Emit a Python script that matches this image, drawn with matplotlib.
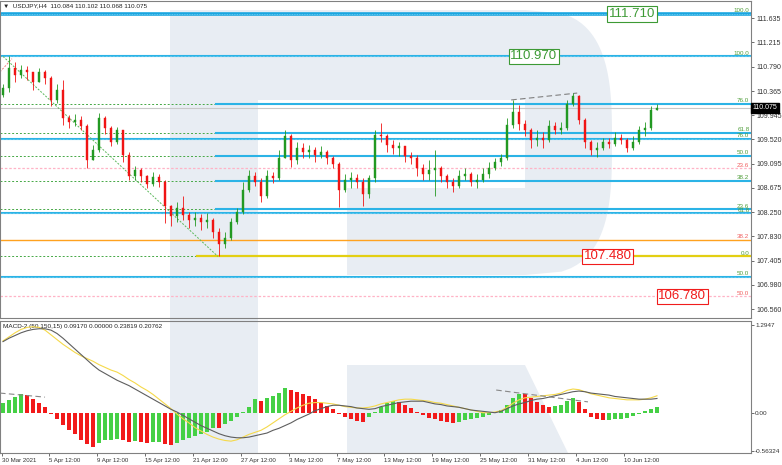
import numpy as np
import matplotlib.pyplot as plt
from matplotlib.patches import Polygon, Rectangle
from matplotlib.transforms import blended_transform_factory

plt.rcParams['font.family'] = ['Liberation Sans', 'DejaVu Sans']

first_open = 110.30
closes = [110.418, 110.767, 110.645, 110.732, 110.697, 110.523, 110.697, 110.593, 110.209, 110.383,
          109.895, 109.825, 109.860, 109.755, 109.162, 109.336, 109.895, 109.720, 109.476, 109.685,
          109.249, 108.882, 108.987, 108.882, 108.743, 108.865, 108.778, 108.359, 108.184, 108.324,
          108.202, 108.115, 108.149, 108.080, 108.115, 107.905, 107.696, 107.800, 108.080, 108.254,
          108.638, 108.882, 108.778, 108.533, 108.882, 108.848, 109.197, 109.581, 109.162, 109.371,
          109.301, 109.336, 109.249, 109.301, 109.197, 109.092, 108.638, 108.813, 108.848, 108.778,
          108.568, 108.848, 109.598, 109.581, 109.423, 109.371, 109.406, 109.231, 109.197, 109.022,
          108.917, 108.987, 109.022, 108.882, 108.778, 108.708, 108.882, 108.917, 108.778, 108.813,
          108.917, 109.022, 109.127, 109.197, 109.772, 109.999, 109.790, 109.685, 109.511, 109.546,
          109.511, 109.755, 109.685, 109.720, 110.139, 110.279, 109.860, 109.476, 109.336, 109.371,
          109.476, 109.441, 109.546, 109.511, 109.371, 109.476, 109.685, 109.720, 110.034, 110.075]
highs = [110.488, 110.977, 110.872, 110.820, 110.802, 110.697, 110.767, 110.732, 110.628, 110.488,
         110.558, 109.947, 109.964, 109.930, 109.790, 109.423, 109.982, 109.930, 109.755, 109.738,
         109.685, 109.301, 109.057, 109.022, 108.900, 108.952, 108.917, 108.813, 108.376, 108.429,
         108.533, 108.254, 108.254, 108.219, 108.237, 108.149, 107.975, 107.905, 108.149, 108.324,
         108.778, 108.987, 108.952, 108.848, 108.987, 108.952, 109.336, 109.685, 109.615, 109.476,
         109.458, 109.423, 109.389, 109.406, 109.336, 109.231, 109.127, 108.917, 108.952, 108.917,
         108.848, 108.900, 109.685, 109.807, 109.615, 109.511, 109.476, 109.406, 109.301, 109.249,
         109.092, 109.162, 109.336, 109.057, 108.917, 108.848, 108.987, 109.022, 108.952, 108.917,
         109.022, 109.127, 109.197, 109.266, 109.895, 110.209, 110.122, 109.860, 109.720, 109.685,
         109.650, 109.860, 109.825, 109.825, 110.209, 110.331, 110.296, 109.895, 109.511, 109.476,
         109.546, 109.546, 109.650, 109.615, 109.546, 109.581, 109.755, 109.825, 110.104, 110.139]
lows = [110.261, 110.348, 110.523, 110.593, 110.558, 110.383, 110.523, 110.488, 110.104, 110.156,
        109.772, 109.720, 109.755, 109.685, 109.022, 109.197, 109.301, 109.615, 109.406, 109.441,
        109.127, 108.813, 108.813, 108.778, 108.673, 108.708, 108.690, 108.062, 108.010, 108.080,
        108.115, 107.975, 108.010, 107.940, 107.975, 107.800, 107.480, 107.626, 107.766, 108.045,
        108.219, 108.603, 108.708, 108.429, 108.498, 108.760, 108.813, 109.336, 109.040, 109.092,
        109.197, 109.197, 109.127, 109.197, 109.092, 109.022, 108.341, 108.603, 108.673, 108.673,
        108.359, 108.498, 108.778, 109.476, 109.301, 109.266, 109.231, 109.127, 109.092, 108.882,
        108.813, 108.813, 108.533, 108.778, 108.673, 108.603, 108.673, 108.813, 108.708, 108.673,
        108.778, 108.848, 108.987, 109.057, 109.162, 109.720, 109.685, 109.581, 109.371, 109.406,
        109.371, 109.476, 109.615, 109.615, 109.685, 110.104, 109.790, 109.371, 109.249, 109.214,
        109.336, 109.371, 109.406, 109.441, 109.301, 109.336, 109.441, 109.581, 109.685, 110.034]

# MACD-2 (50,150,15)
hist = [0.15, 0.19, 0.23, 0.28, 0.26, 0.20, 0.14, 0.08, -0.02, -0.10,
        -0.18, -0.25, -0.32, -0.40, -0.46, -0.50, -0.45, -0.40, -0.40, -0.39,
        -0.41, -0.43, -0.42, -0.43, -0.44, -0.43, -0.43, -0.46, -0.48, -0.44,
        -0.40, -0.37, -0.34, -0.31, -0.28, -0.22, -0.23, -0.17, -0.12, -0.06,
        0.01, 0.08, 0.20, 0.18, 0.22, 0.24, 0.29, 0.36, 0.34, 0.30,
        0.27, 0.24, 0.20, 0.15, 0.10, 0.05, -0.02, -0.07, -0.10, -0.12,
        -0.13, -0.07, 0.01, 0.08, 0.14, 0.17, 0.16, 0.12, 0.07, 0.01,
        -0.04, -0.08, -0.10, -0.12, -0.14, -0.15, -0.13, -0.11, -0.10, -0.08,
        -0.07, -0.04, 0.00, 0.04, 0.12, 0.22, 0.28, 0.27, 0.22, 0.16,
        0.11, 0.09, 0.10, 0.12, 0.17, 0.22, 0.16, 0.05, -0.06, -0.10,
        -0.11, -0.11, -0.10, -0.09, -0.08, -0.05, -0.02, 0.02, 0.05, 0.09]
macd_yellow = [1.06, 1.12, 1.18, 1.23, 1.26, 1.27, 1.26, 1.22, 1.15, 1.08,
               1.01, 0.95, 0.89, 0.84, 0.80, 0.76, 0.71, 0.67, 0.63, 0.60,
               0.55, 0.49, 0.44, 0.38, 0.33, 0.27, 0.20, 0.13, 0.06, -0.02,
               -0.09, -0.15, -0.22, -0.27, -0.32, -0.36, -0.39, -0.41, -0.42, -0.40,
               -0.36, -0.32, -0.29, -0.26, -0.21, -0.15, -0.09, -0.03, 0.02, 0.07,
               0.11, 0.14, 0.15, 0.15, 0.14, 0.13, 0.11, 0.09, 0.08, 0.07,
               0.07, 0.08, 0.10, 0.13, 0.15, 0.17, 0.19, 0.20, 0.20, 0.19,
               0.18, 0.17, 0.15, 0.14, 0.12, 0.10, 0.08, 0.06, 0.04, 0.02,
               0.00, 0.00, 0.01, 0.03, 0.08, 0.14, 0.19, 0.22, 0.23, 0.24,
               0.25, 0.26, 0.27, 0.29, 0.33, 0.35, 0.34, 0.31, 0.28, 0.26,
               0.24, 0.22, 0.21, 0.20, 0.19, 0.19, 0.19, 0.20, 0.22, 0.25]
macd_gray = [1.05, 1.10, 1.14, 1.18, 1.21, 1.23, 1.24, 1.24, 1.22, 1.17,
             1.10, 1.02, 0.94, 0.86, 0.78, 0.70, 0.63, 0.58, 0.53, 0.48,
             0.44, 0.40, 0.35, 0.30, 0.25, 0.20, 0.15, 0.10, 0.05, 0.01,
             -0.04, -0.09, -0.14, -0.19, -0.23, -0.27, -0.31, -0.34, -0.36, -0.37,
             -0.37, -0.36, -0.34, -0.32, -0.30, -0.26, -0.23, -0.19, -0.15, -0.10,
             -0.06, -0.02, 0.03, 0.06, 0.09, 0.11, 0.11, 0.10, 0.09, 0.07,
             0.06, 0.05, 0.06, 0.09, 0.11, 0.13, 0.15, 0.16, 0.17, 0.17,
             0.17, 0.15, 0.13, 0.12, 0.10, 0.09, 0.08, 0.06, 0.04, 0.03,
             0.02, 0.01, 0.00, 0.02, 0.06, 0.10, 0.13, 0.15, 0.18, 0.20,
             0.21, 0.23, 0.25, 0.27, 0.29, 0.31, 0.32, 0.31, 0.29, 0.28,
             0.27, 0.26, 0.24, 0.23, 0.22, 0.21, 0.20, 0.20, 0.20, 0.21]

date_ticks = [-0.2, 7.7, 15.7, 23.7, 31.7, 39.7, 47.7, 55.7, 63.5, 71.5, 79.5, 87.5, 95.5, 103.5]
date_labels = ["30 Mar 2021", "5 Apr 12:00", "9 Apr 12:00", "15 Apr 12:00", "21 Apr 12:00",
               "27 Apr 12:00", "3 May 12:00", "7 May 12:00", "13 May 12:00", "19 May 12:00",
               "25 May 12:00", "31 May 12:00", "4 Jun 12:00", "10 Jun 12:00"]
price_ticks = [111.635, 111.215, 110.790, 110.365, 109.945, 109.520, 109.095,
               108.675, 108.250, 107.830, 107.405, 106.980, 106.560]
macd_ticks = [1.2947, 0.0, -0.56324]
macd_tick_labels = ["1.2947", "0.00", "-0.56324"]

# fibonacci levels: price, label, kind
fib_prices = [111.710, 110.970, 110.139, 109.638, 109.529, 109.232, 109.020,
              108.801, 108.302, 108.232, 107.766, 107.480, 107.125, 106.780]
fib_labels = ["100.0", "100.0", "76.0", "61.8", "76.0", "50.0", "23.6",
              "38.2", "23.6", "61.8", "38.2", "0.0", "50.0", "50.0"]
fib_kinds = ["top", "blue", "retr", "retr", "blue", "retr", "pink",
             "retr", "retr", "blue", "orange", "yellow", "blue", "pink"]

# target boxes: text, position (candle index), price, colour
targets = [("111.710", 104.8, 111.710, "#3d9a35"), ("110.970", 88.5, 110.970, "#3d9a35"),
           ("107.480", 100.8, 107.480, "#f01c1c"), ("106.780", 113.2, 106.780, "#f01c1c")]

last_close = 110.075

W, H = 782, 465
fig = plt.figure(figsize=(W / 100, H / 100), dpi=100)
fig.patch.set_facecolor("white")

def fx(x):
    return x / W

def fy(y):
    return 1 - y / H

# watermark "R"
wm = "#e8edf3"
stem = [(170, 10), (258, 10), (258, 453), (170, 453)]
yy = np.linspace(10, 275, 80)
arc = [(525 + 87 * max(0.0, 1 - abs((v - 142.5) / 132.5) ** 3) ** (1 / 3), v) for v in yy]
bowl = [(258, 10)] + arc + [(347, 275), (347, 188), (525, 188), (525, 100), (258, 100)]
leg = [(347, 365), (525, 365), (568, 453), (347, 453)]
for shape in (stem, bowl, leg):
    fig.add_artist(Polygon([(fx(a), fy(b)) for a, b in shape], closed=True,
                           transform=fig.transFigure, facecolor=wm, edgecolor="none", zorder=-5))

ax = fig.add_axes([0, fy(318), fx(751), fy(1) - fy(318)])
ax2 = fig.add_axes([0, fy(453), fx(751), fy(321) - fy(453)])
for a in (ax, ax2):
    a.set_facecolor("none")
    for s in a.spines.values():
        s.set_color("#808080")
        s.set_linewidth(0.8)
    a.set_xlim(-0.5, 124.67)

ax.set_ylim(106.404, 111.937)
ax2.set_ylim(-0.595, 1.3545)

n = len(closes)
xs = np.arange(n)

# fib lines
retr_start = 35.5
for p, lab, kind in zip(fib_prices, fib_labels, fib_kinds):
    lcol = "#4f9e3a"
    if kind == "top":
        ax.axhline(p, color="#1aa6e0", lw=2.6, zorder=1)
        ax.axhline(p, color="#7fd3f2", lw=0.6, ls=(0, (1, 1)), zorder=1)
    elif kind == "blue":
        ax.axhline(p, color="#2bb3e6", lw=1.5, zorder=1)
        ax.axhline(p, color="#9fe0f6", lw=0.5, ls=(0, (1, 1)), zorder=1)
    elif kind == "retr":
        ax.plot([-0.5, retr_start], [p, p], color="#45a845", lw=0.7, ls=(0, (2, 2)), zorder=1)
        ax.plot([retr_start, 124.67], [p, p], color="#2bb3e6", lw=1.5, zorder=1)
    elif kind == "pink":
        ax.axhline(p, color="#ffb3c6", lw=0.9, ls=(0, (2, 1.5)), zorder=1)
        lcol = "#f06060"
    elif kind == "orange":
        ax.axhline(p, color="#ffa21f", lw=1.0, zorder=1)
        lcol = "#f06060"
    elif kind == "yellow":
        ax.plot([-0.5, 32.3], [p, p], color="#45a845", lw=0.7, ls=(0, (2, 2)), zorder=1)
        ax.plot([32.3, 124.67], [p, p], color="#e3cf12", lw=1.6, zorder=1)
    ax.text(124.4, p + 0.01, lab, ha="right", va="bottom", fontsize=4.5, color=lcol, zorder=2)

# current price line
ax.axhline(last_close, color="#c8c8c8", lw=0.8, zorder=1)

# trend lines
ax.plot([0, 35.8], [110.97, 107.48], color="#5cb85c", lw=0.7, ls=(0, (2, 1.5)), zorder=2)
ax.plot([-0.5, 1.5], [110.70, 110.93], color="#f08080", lw=0.7, ls=(0, (2, 1.5)), zorder=2)
ax.plot([84.7, 95.7], [110.21, 110.33], color="#808080", lw=0.8, ls=(0, (5, 3)), zorder=3)

# candles
bull, bear = "#229922", "#f01414"
opens = [first_open] + closes[:-1]
for i in range(n):
    o, c = opens[i], closes[i]
    hi, lo = max(highs[i], o, c), min(lows[i], o, c)
    col = bull if c >= o else bear
    ax.vlines(i, lo, hi, color=col, lw=0.6, zorder=4)
    ax.add_patch(Rectangle((i - 0.21, min(o, c)), 0.42, max(abs(c - o), 0.006),
                           facecolor=col, edgecolor=col, lw=0.3, zorder=5))

# target boxes
for txt, xi, p, col in targets:
    ax.text(xi, p, txt, ha="center", va="center", fontsize=9.5, color=col, zorder=6,
            bbox=dict(boxstyle="square,pad=0.12", facecolor="white", edgecolor=col, lw=0.8))

ax.text(0.004, 0.984, "\u25bc  USDJPY,H4  110.084 110.102 110.068 110.075",
        transform=ax.transAxes, fontsize=4.6, va="center", ha="left", color="#222222")

# price axis
ax.yaxis.tick_right()
ax.set_yticks(price_ticks)
ax.set_yticklabels([f"{v:.3f}" for v in price_ticks])
ax.tick_params(axis="y", length=2.5, width=0.5, labelsize=5, pad=1.5, colors="#333333")
ax.set_xticks([])
tr = blended_transform_factory(ax.transAxes, ax.transData)
ax.text(1.002, last_close, f"{last_close:.3f}", transform=tr, fontsize=5, color="white",
        va="center", ha="left", zorder=7,
        bbox=dict(boxstyle="square,pad=0.2", facecolor="black", edgecolor="black"))

# MACD panel
hcols = ["#45d045" if (i == 0 or hist[i] >= hist[i - 1]) else "#f21a1a" for i in range(n)]
ax2.bar(xs, hist, width=0.8, color=hcols, zorder=3)
ax2.plot(xs, macd_yellow, color="#f5d94a", lw=0.8, zorder=4)
ax2.plot(xs, macd_gray, color="#5e5e5e", lw=0.8, zorder=4)
ax2.plot([-0.5, 7.0], [0.29, 0.23], color="#888888", lw=0.8, ls=(0, (5, 3)), zorder=5)
ax2.plot([82.2, 97.5], [0.335, 0.16], color="#888888", lw=0.8, ls=(0, (5, 3)), zorder=5)
ax2.text(0.004, 0.962, "MACD-2 (50,150,15) 0.09170 0.00000 0.23819 0.20762",
         transform=ax2.transAxes, fontsize=4.6, va="center", ha="left", color="#222222")

ax2.yaxis.tick_right()
ax2.set_yticks(macd_ticks)
ax2.set_yticklabels(macd_tick_labels)
ax2.tick_params(axis="y", length=2, width=0.5, labelsize=4.6, pad=1, colors="#333333")
ax2.set_xticks(date_ticks)
ax2.set_xticklabels(date_labels)
ax2.tick_params(axis="x", length=2.5, width=0.5, labelsize=4.4, pad=1, colors="#333333")
for lbl in ax2.get_xticklabels():
    lbl.set_ha("left")

fig.savefig("out.png", dpi=100)
